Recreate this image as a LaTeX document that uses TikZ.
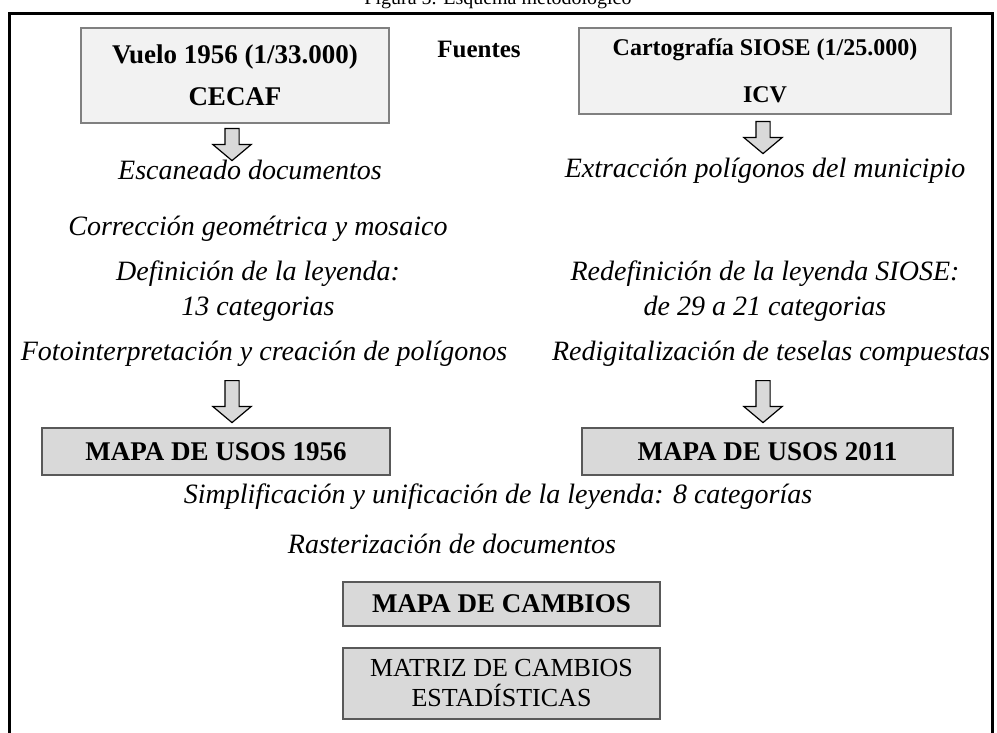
\documentclass[tikz,border=0pt]{standalone}
\usepackage{fontspec}
\setmainfont{Liberation Serif}
\usetikzlibrary{shapes.arrows,positioning}
\definecolor{ink}{RGB}{0,0,0}
\definecolor{edge}{RGB}{128,128,128}
\definecolor{edgedark}{RGB}{89,89,89}
\definecolor{pale}{RGB}{242,242,242}
\definecolor{mid}{RGB}{217,217,217}
\tikzset{
  every picture/.style={color=ink, line width=0.5pt},
  src/.style={draw=edge, fill=pale, line width=1.2pt, align=center, inner sep=0pt},
  res/.style={draw=edgedark, fill=mid, line width=1.2pt, align=center, inner sep=0pt},
  stepnote/.style={font=\fontsize{28}{35}\selectfont\itshape, align=center, inner sep=0pt},
  down/.style={single arrow, shape border rotate=270, draw=ink, fill=mid, line width=1.2pt, inner sep=6.5pt,
    single arrow head extend=12pt, single arrow tip angle=100, anchor=tail},
}

\begin{document}
\begin{tikzpicture}[x=1pt, y=-1pt]
  \useasboundingbox (0,0) rectangle (997,733);
  \node[anchor=base, font=\fontsize{20}{24}\selectfont] (title) at (498,5) {Figura 5. Esquema metodológico};
  \draw[line width=3pt] (9,14) rectangle (992,760);

  \node[src, minimum width=308pt, minimum height=95pt, font=\fontsize{27}{42}\selectfont\bfseries] (vuelo) at (235,75.5) {Vuelo 1956 (1/33.000)\\CECAF};
  \node[anchor=base, font=\fontsize{25}{30}\selectfont\bfseries] (fuentes) at (479,58) {Fuentes};
  \node[src, minimum width=372pt, minimum height=86pt, font=\fontsize{24}{47}\selectfont\bfseries] (siose) at (765,71) {Cartografía SIOSE (1/25.000)\\ICV};

  \node[down, minimum height=32pt] (a1) at (232,128) {};
  \node[down, minimum height=32pt] (a2) at (763,121) {};

  \node[stepnote, anchor=base] (escan) at (250,180) {Escaneado documentos};
  \node[stepnote, anchor=base] (extr) at (765,178) {Extracción polígonos del municipio};
  \node[stepnote, anchor=base] (corr) at (258,236) {Corrección geométrica y mosaico};
  \node[stepnote] (leyenda) at (258,291) {Definición de la leyenda:\\13 categorias};
  \node[stepnote] (redef) at (765,291) {Redefinición de la leyenda SIOSE:\\de 29 a 21 categorias};
  \node[stepnote, anchor=base] (foto) at (264,360) {Fotointerpretación y creación de polígonos};
  \node[stepnote, anchor=base] (redig) at (771,360) {Redigitalización de teselas compuestas};

  \node[down, minimum height=42pt] (a3) at (232,380) {};
  \node[down, minimum height=42pt] (a4) at (763,380) {};

  \node[res, minimum width=348pt, minimum height=47pt, font=\fontsize{27}{30}\selectfont\bfseries] (usos56) at (216,451.5) {MAPA DE USOS 1956};
  \node[res, minimum width=371pt, minimum height=47pt, font=\fontsize{27}{30}\selectfont\bfseries] (usos11) at (767.5,451.5) {MAPA DE USOS 2011};

  \node[stepnote, anchor=base] (simpl) at (498,503) {Simplificación y unificación de la leyenda: 8 categorías};
  \node[stepnote, anchor=base] (raster) at (452,553) {Rasterización de documentos};

  \node[res, minimum width=317pt, minimum height=44pt, font=\fontsize{27}{30}\selectfont\bfseries] (cambios) at (501.5,604) {MAPA DE CAMBIOS};
  \node[res, minimum width=317pt, minimum height=71pt, font=\fontsize{26}{30}\selectfont] (matriz) at (501.5,683.5) {MATRIZ DE CAMBIOS\\ESTADÍSTICAS};
\end{tikzpicture}
\end{document}
